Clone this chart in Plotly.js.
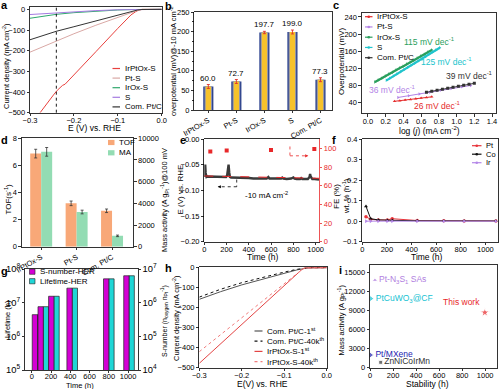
<!DOCTYPE html>
<html><head><meta charset="utf-8">
<script src="https://cdn.plot.ly/plotly-3.0.1.min.js"></script>
<style>html,body{margin:0;padding:0;background:#fff;}#plot{width:500px;height:389px;}</style>
</head><body><div id="plot"></div>
<script>
// ================= DATA =================
// (a) LSV curves
const aNames = ['IrPtOx-S','Pt-S','IrOx-S','S','Com. Pt/C'];
const aE_IrPtOxS = [-0.277,-0.26,-0.245,-0.238,-0.232,-0.226,-0.22,-0.2,-0.15,-0.1,-0.07,-0.06,-0.052,-0.045,0.0];
const aJ_IrPtOxS = [-500,-450,-410,-392,-378,-368,-362,-318,-205,-92,-27,-12,-3,0,0];
const aE_PtS = [-0.3,-0.24,-0.2,-0.15,-0.1,-0.07,-0.055,-0.045,0];
const aJ_PtS = [-207,-152,-118,-77,-38,-15,-5,-1,0];
const aE_IrOxS = [-0.3,-0.24,-0.2,-0.15,-0.1,-0.07,-0.05,0];
const aJ_IrOxS = [-43,-24,-16,-8,-3,-1,0,0];
const aE_S = [-0.3,-0.24,-0.2,-0.15,-0.1,-0.07,-0.05,0];
const aJ_S = [-25,-16,-11,-6,-2,-0.5,0,0];
const aE_PtC = [-0.3,-0.24,-0.2,-0.15,-0.1,-0.07,-0.055,-0.045,0];
const aJ_PtC = [-147,-106,-84,-55,-28,-11,-3,-0.5,0];
const aRefE = -0.24;

// (b) overpotential @ -10 mA cm-2
const bCats = ['IrPtOx-S','Pt-S','IrOx-S','S','Com. Pt/C'];
const bEta = [60.0,72.7,197.7,199.0,77.3];
const bErr = [5,5,3,5,5];

// (c) Tafel
const cNames = ['IrPtOx-S','Pt-S','IrOx-S','S','Com. Pt/C'];
const cX_IrPtOxS = [0.30,0.36,0.42,0.48,0.54,0.60,0.66,0.72];
const cY_IrPtOxS = [43,44.5,46,47.5,49,50.5,52,53.5];
const cX_PtS = [0.34,0.46,0.58,0.70,0.82,0.94,1.06,1.16];
const cY_PtS = [52,56,60,64,69,73,77,80];
const cX_IrOxS = [0.08,0.12,0.16,0.20,0.24,0.28,0.32,0.36,0.40,0.44,0.48,0.52,0.56,0.60,0.64,0.68,0.72];
const cY_IrOxS = [88,93,97,102,107,111,116,121,125,130,135,139,144,149,153,158,163];
const cX_S = [0.21,0.25,0.29,0.33,0.37,0.41,0.45,0.49,0.53,0.57,0.61,0.65,0.69,0.73,0.77,0.81];
const cY_S = [92,97,102,107,112,117,122,127,132,137,142,147,153,158,163,168];
const cX_PtC = [0.66,0.72,0.78,0.84,0.90,0.96,1.02,1.08,1.14,1.20];
const cY_PtC = [64,66.5,69,71,73.5,76,78,80.5,83,85];
const cSlopes = ['26 mV dec<sup>-1</sup>','36 mV dec<sup>-1</sup>','115 mV dec<sup>-1</sup>','125 mV dec<sup>-1</sup>','39 mV dec<sup>-1</sup>'];

// (d) TOF and mass activity
const dCats = ['IrPtOx-S','Pt-S','Com. Pt/C'];
const dTOF = [6.87,3.2,2.65];
const dTOFerr = [0.32,0.17,0.13];
const dMA = [8750,3200,1000];
const dMAerr = [400,170,70];

// (e) stability at -10 mA cm-2
const eT = [0,4,8,12,16,20,30,50,80,110,140,170,195,205,212,218,224,230,240,270,300,330,360,400,440,480,520,560,575,585,595,620,650,690,700,710,740,780,800,810,830,860,870,880,900,930,945,950,955,962,970,990,1010,1030];
const eE = [-0.074,-0.062,-0.050,-0.066,-0.073,-0.074,-0.073,-0.073,-0.074,-0.074,-0.073,-0.074,-0.074,-0.071,-0.060,-0.050,-0.065,-0.074,-0.075,-0.075,-0.075,-0.076,-0.076,-0.076,-0.077,-0.077,-0.077,-0.077,-0.074,-0.077,-0.077,-0.077,-0.077,-0.077,-0.075,-0.077,-0.078,-0.077,-0.075,-0.077,-0.078,-0.078,-0.076,-0.078,-0.078,-0.078,-0.074,-0.068,-0.073,-0.077,-0.078,-0.078,-0.079,-0.079];
const eFitT = [0,1030];
const eFitE = [-0.072,-0.0765];
const eFET = [54,201,599,988];
const eFE = [96.5,97.6,98.3,99.4];

// (f) dissolution
const fNames = ['Pt','Co','Ir'];
const fT = [30,68,130,203,243,446,662,827,1085];
const fPt = [0.021,0.009,0.006,0.006,0.012,0.003,0.002,0.001,0.001];
const fCo = [0.072,0.012,0.006,0.004,0.004,0.002,0.001,0.001,0.001];
const fIr = [0,0,0,0,0,0,0,0,0];

// (g) lifetime / S-number
const gNames = ['S-number-HER','Lifetime-HER'];
const gTime = [60,120,230,420,800,1010];
const gSnum = [4.4e5,7.6e5,1.55e6,2.7e6,5.1e6,6.3e6];
const gLife = [4.4e6,7.6e6,1.55e7,2.7e7,5.1e7,6.3e7];

// (h) LSV before / after 40k cycles
const hNames = ['Com. Pt/C-1<sup>st</sup>','Com. Pt/C-40k<sup>th</sup>','IrPtOx-S-1<sup>st</sup>','IrPtOx-S-40k<sup>th</sup>'];
const hE_PtC = [-0.3,-0.25,-0.2,-0.15,-0.1,-0.07,-0.05,-0.04,0];
const hJ_PtC1 = [-158,-120,-86,-56,-28,-11,-3,-0.5,0];
const hJ_PtC40k = [-147,-108,-75,-47,-22,-8,-2,0,0];
const hE_Ir = [-0.3,-0.25,-0.2,-0.15,-0.1,-0.08,-0.07,-0.06,-0.055,-0.05,0];
const hJ_Ir1 = [-478,-380,-282,-185,-88,-50,-30,-12,-5,-1,0];
const hJ_Ir40k = [-420,-335,-248,-163,-78,-44,-26,-10,-4,-1,0];

// (i) comparison
const iNames = ['Pt-N<sub>3</sub>S<sub>1</sub> SAs','PtCuWO<sub>3</sub>@CF','Pt/MXene','ZnNiCoIrMn','This work'];
const iStab = [43,9,6,93,997];
const iMA = [13800,10900,2000,850,8700];

// ================= LAYOUT HELPERS =================
const W=500,H=389;
const PX=x=>x/W, PY=y=>1-y/H;
const xd=(a,b)=>[a/W,b/W], yd=(t,b)=>[1-b/H,1-t/H];
const FONT='Arial, "Liberation Sans", sans-serif';
const TICK={size:7.5,color:'#000',family:FONT};
function ax(o){return Object.assign({showline:true,linecolor:'#000',linewidth:0.8,mirror:true,ticks:'outside',ticklen:2.5,tickwidth:0.8,tickcolor:'#000',showgrid:false,zeroline:false,tickfont:TICK,fixedrange:true,exponentformat:'none',separatethousands:false},o);}
function xax(o){return ax(Object.assign({ticklabelstandoff:-2},o));}

const shapes=[], annotations=[];
function txt(x,y,text,o){annotations.push(Object.assign({xref:'paper',yref:'paper',x:PX(x),y:PY(y),text:text,showarrow:false,xanchor:'left',yanchor:'middle',font:{size:8,family:FONT,color:'#000'}},o||{}));}
function ttl(text,x,y,rot,size,color){annotations.push({xref:'paper',yref:'paper',x:PX(x),y:PY(y),text:text,showarrow:false,xanchor:'center',yanchor:'middle',textangle:rot?-90:0,font:{size:size||8,family:FONT,color:color||'#000'}});}
function legend(items,x0,y0,dy,len,fs){
  items.forEach((it,i)=>{
    const y=y0+i*dy;
    if(it.kind==='box'){
      shapes.push({type:'rect',xref:'paper',yref:'paper',x0:PX(x0),x1:PX(x0+len),y0:PY(y+2.6),y1:PY(y-2.6),fillcolor:it.color,line:{color:'#222',width:it.border===false?0:0.6}});
    } else {
      shapes.push({type:'line',xref:'paper',yref:'paper',x0:PX(x0),x1:PX(x0+len),y0:PY(y),y1:PY(y),line:{color:it.color,width:it.width||1.2,dash:it.dash||'solid'}});
      if(it.kind==='linemark'){
        shapes.push({type:'circle',xref:'paper',yref:'paper',x0:PX(x0+len/2-1.3),x1:PX(x0+len/2+1.3),y0:PY(y-1.3),y1:PY(y+1.3),fillcolor:it.color,line:{width:0}});
      }
    }
    txt(x0+len+2.5,y,it.name,{font:{size:fs||8,family:FONT,color:'#000'}});
  });
}

const traces=[];
// ----- (a)
const aCol=['#e8413e','#d9a8a5','#2fa86d','#a57be0','#333333'];
[[aE_IrPtOxS,aJ_IrPtOxS],[aE_PtS,aJ_PtS],[aE_IrOxS,aJ_IrOxS],[aE_S,aJ_S],[aE_PtC,aJ_PtC]].forEach((d,i)=>{
  traces.push({type:'scatter',mode:'lines',x:d[0],y:d[1],xaxis:'x',yaxis:'y',line:{color:aCol[i],width:1},showlegend:false,name:aNames[i]});
});
shapes.push({type:'line',xref:'x',yref:'y domain',x0:aRefE,x1:aRefE,y0:0,y1:1,line:{color:'#000',width:0.9,dash:'dot'}});
legend(aNames.map((n,i)=>({name:n,color:aCol[i],kind:'line'})),112.5,68.5,9.6,7.5);
ttl('E (V) vs. RHE',94,128,false,8.5);
ttl('Current density (mA cm<sup>-2</sup>)',6,66,true,7.5);

// ----- (b)
traces.push({type:'bar',x:bCats,y:bEta,xaxis:'x2',yaxis:'y2',width:0.36,marker:{color:'#243b8a'},showlegend:false,hoverinfo:'skip'});
traces.push({type:'bar',x:bCats,y:bEta,xaxis:'x2',yaxis:'y2',width:0.27,marker:{color:'#8d93b0'},showlegend:false,hoverinfo:'skip'});
traces.push({type:'bar',x:bCats,y:bEta,xaxis:'x2',yaxis:'y2',width:0.19,marker:{color:'#f6c22c'},showlegend:false,
  error_y:{type:'data',array:bErr,color:'#e0302a',thickness:0.9,width:1.5}});
bCats.forEach((c,i)=>annotations.push({xref:'x2',yref:'y2',x:c,y:bEta[i]+bErr[i],text:bEta[i].toFixed(1),showarrow:false,yanchor:'bottom',yshift:0,font:{size:8,family:FONT,color:'#000'}}));
ttl('overpotential (mV)@-10 mA cm<sup>-2</sup>',173,62,true,7.5);

// ----- (c)
const cCol=['#e52b2b','#b283e6','#2a9e5c','#20c4cc','#333333'];
const cSym=['triangle-up','triangle-right','triangle-right','triangle-right','square'];
[[cX_IrPtOxS,cY_IrPtOxS],[cX_PtS,cY_PtS],[cX_IrOxS,cY_IrOxS],[cX_S,cY_S],[cX_PtC,cY_PtC]].forEach((d,i)=>{
  traces.push({type:'scatter',mode:'lines+markers',x:d[0],y:d[1],xaxis:'x3',yaxis:'y3',line:{color:cCol[i],width:(i===2||i===3)?2.2:1},marker:{color:cCol[i],size:3,symbol:cSym[i]},showlegend:false,name:cNames[i]});
});
legend(cNames.map((n,i)=>({name:n,color:cCol[i],kind:'linemark'})),365,16.7,10.25,7.5);
const cLab=[[0.78,34],[0.28,70],[0.70,182],[0.89,137],[1.14,104]];
cSlopes.forEach((s,i)=>annotations.push({xref:'x3',yref:'y3',x:cLab[i][0],y:cLab[i][1],text:s,showarrow:false,font:{size:8.5,family:FONT,color:cCol[i]}}));
ttl('log (<i>j</i>) (mA cm<sup>-2</sup>)',429,130.5,false,8.5);
ttl('Overpotential (mV)',341,62,true,8);

// ----- (d)
traces.push({type:'bar',x:dCats,y:dTOF,xaxis:'x4',yaxis:'y4',offset:-0.31,width:0.31,marker:{color:'#f8a878'},showlegend:false,
  error_y:{type:'data',array:dTOFerr,color:'#333',thickness:0.8,width:1.5}});
traces.push({type:'bar',x:dCats,y:dMA,xaxis:'x4',yaxis:'y10',offset:0,width:0.31,marker:{color:'#93dcb3'},showlegend:false,
  error_y:{type:'data',array:dMAerr,color:'#333',thickness:0.8,width:1.5}});
legend([{name:'TOF',color:'#f8a878',kind:'box',border:false},{name:'MA',color:'#93dcb3',kind:'box',border:false}],108,142.5,10.3,6.5);
ttl('TOF(s<sup>-1</sup>)',7.5,199,true,8);
ttl('Mass activity (A g<sub>Pt</sub><sup>-1</sup>)@100 mV',164,200,true,7.5);

// ----- (e)
traces.push({type:'scatter',mode:'lines',x:eT,y:eE,xaxis:'x5',yaxis:'y5',line:{color:'#3a3a3a',width:2.4},showlegend:false});
traces.push({type:'scatter',mode:'lines',x:eFitT,y:eFitE,xaxis:'x5',yaxis:'y5',line:{color:'#e8282a',width:1,dash:'dash'},showlegend:false});
traces.push({type:'scatter',mode:'markers',x:eFET,y:eFE,xaxis:'x5',yaxis:'y11',marker:{color:'#e8282a',size:4,symbol:'square'},showlegend:false});
shapes.push({type:'line',xref:'x5',yref:'y5',x0:291,x1:291,y0:-0.079,y1:-0.093,line:{color:'#000',width:0.8,dash:'dot'}});
shapes.push({type:'line',xref:'x5',yref:'y5',x0:291,x1:130,y0:-0.093,y1:-0.093,line:{color:'#000',width:0.8,dash:'dot'}});
annotations.push({xref:'x5',yref:'y5',axref:'x5',ayref:'y5',x:120,y:-0.093,ax:150,ay:-0.093,showarrow:true,arrowhead:2,arrowsize:0.8,arrowwidth:0.8,arrowcolor:'#000',text:''});
shapes.push({type:'line',xref:'x5',yref:'y11',x0:769,x1:769,y0:102,y1:92,line:{color:'#e8282a',width:0.8,dash:'dot'}});
shapes.push({type:'line',xref:'x5',yref:'y11',x0:769,x1:920,y0:92,y1:92,line:{color:'#e8282a',width:0.8,dash:'dot'}});
annotations.push({xref:'x5',yref:'y11',axref:'x5',ayref:'y11',x:934,y:92,ax:900,ay:92,showarrow:true,arrowhead:2,arrowsize:0.8,arrowwidth:0.8,arrowcolor:'#e8282a',text:''});
annotations.push({xref:'x5',yref:'y5',x:560,y:-0.109,text:'-10 mA cm<sup>-2</sup>',showarrow:false,font:{size:8,family:FONT,color:'#000'}});
ttl('E (V) vs. RHE',180.5,190,true,8);
ttl('FE (%)',336,197,true,8);
ttl('Time (h)',262,257,false,8.5);

// ----- (f)
const fCol=['#e8333a','#111111','#b487e8'];
const fSym=['circle','triangle-up','triangle-right'];
[fPt,fCo,fIr].forEach((d,i)=>traces.push({type:'scatter',mode:'lines+markers',x:fT,y:d,xaxis:'x6',yaxis:'y6',line:{color:fCol[i],width:1},marker:{color:fCol[i],size:3.5,symbol:fSym[i]},showlegend:false,name:fNames[i]}));
legend(fNames.map((n,i)=>({name:n,color:fCol[i],kind:'linemark'})),472,145.7,8.5,9.5,7.5);
ttl('wt. % (h<sup>-1</sup>)',346,196,true,7.5);
ttl('Time (h)',426,257,false,8.5);

// ----- (g)
traces.push({type:'bar',x:gTime,y:gSnum,xaxis:'x7',yaxis:'y12',offset:-55,width:55,marker:{color:'#d400d4',line:{color:'#222',width:0.7}},showlegend:false});
traces.push({type:'bar',x:gTime,y:gLife,xaxis:'x7',yaxis:'y7',offset:0,width:55,marker:{color:'#1fd6d6',line:{color:'#222',width:0.7}},showlegend:false});
legend([{name:gNames[0],color:'#d400d4',kind:'box'},{name:gNames[1],color:'#1fd6d6',kind:'box'}],29.5,271.7,9.5,5.5);
ttl('Lifetime (h)',7,319,true,7.5);
ttl('S-number (n<sub>oxygen</sub> n<sub>Pt</sub><sup>-1</sup>)',164,321,true,7);
ttl('Time (h)',80,385.5,false,7.5);

// ----- (h)
const hCol=['#555555','#111111','#e34444','#f07d7d'];
const hDash=['solid','dot','solid','dot'];
[[hE_PtC,hJ_PtC1],[hE_PtC,hJ_PtC40k],[hE_Ir,hJ_Ir1],[hE_Ir,hJ_Ir40k]].forEach((d,i)=>traces.push({type:'scatter',mode:'lines',x:d[0],y:d[1],xaxis:'x8',yaxis:'y8',line:{color:hCol[i],width:1,dash:hDash[i]},showlegend:false,name:hNames[i]}));
legend(hNames.map((n,i)=>({name:n,color:hCol[i],kind:'line',dash:hDash[i]})),254.5,331,10.2,8);
ttl('E(V) vs. RHE',262,383.5,false,8.5);
ttl('Current density (mA cm<sup>-2</sup>)',176,318,true,7.5);

// ----- (i)
traces.push({type:'scatter',mode:'markers+text',x:iStab,y:iMA,xaxis:'x9',yaxis:'y9',text:iNames,
  textposition:['middle right','middle right','middle right','middle right','top left'],
  textfont:{size:8.5,family:FONT,color:['#b07ee0','#14c2d2','#2424b0','#333333','#e8282a']},
  marker:{size:[5,6,6,4,7],symbol:['triangle-up','triangle-right','triangle-right','square','star'],color:['#b07ee0','#14c2d2','#2424b0','#333333','#e8282a']},
  cliponaxis:false,showlegend:false});
ttl('Stability (h)',427,383.5,false,8.5);
ttl('Mass activity (A g<sub>Pt</sub><sup>-1</sup>)',340.5,320,true,7.5);

// panel letters
[['a',4,5.5],['b',168.5,6],['c',335.5,5.5],['d',4,140],['e',183,140],['f',333.5,140],['g',4.5,271],['h',168.5,268],['i',340,270]].forEach(p=>{
  annotations.push({xref:'paper',yref:'paper',x:PX(p[1]),y:PY(p[2]),text:'<b>'+p[0]+'</b>',showarrow:false,xanchor:'center',yanchor:'middle',font:{size:11,family:FONT,color:'#000'}});
});

const layout={
  width:500,height:389,margin:{l:0,r:0,t:0,b:0},paper_bgcolor:'#fff',plot_bgcolor:'rgba(0,0,0,0)',
  barmode:'overlay',showlegend:false,font:{family:FONT,size:8,color:'#000'},
  xaxis:xax({domain:xd(30,161.7),anchor:'y',range:[-0.3,0],dtick:0.1,tickformat:'.1f'}),
  yaxis:ax({domain:yd(7.3,112.7),anchor:'x',range:[-500,10],tickvals:[0,-100,-200,-300,-400,-500]}),
  xaxis2:ax({domain:xd(194.3,331.7),anchor:'y2',type:'category',range:[-0.5,4.4],tickangle:-30}),
  yaxis2:ax({domain:yd(12,110),anchor:'x2',range:[0,250],dtick:50,minor:{ticks:'outside',ticklen:1.5,dtick:25,tickcolor:'#000'}}),
  xaxis3:xax({domain:xd(361.7,496.5),anchor:'y3',range:[-0.07,1.45],dtick:0.2,tickformat:'.1f'}),
  yaxis3:ax({domain:yd(12.7,113.3),anchor:'x3',range:[15,250],tickvals:[40,80,120,160,200,240]}),
  xaxis4:ax({domain:xd(21.7,133.3),anchor:'y4',type:'category',range:[-0.55,2.6],tickangle:-30}),
  yaxis4:ax({domain:yd(138.3,246.7),anchor:'x4',range:[0,8],dtick:2,mirror:false}),
  yaxis10:ax({overlaying:'y4',side:'right',anchor:'x4',range:[0,10000],dtick:2000,tickformat:'d',mirror:false}),
  xaxis5:xax({domain:xd(204.3,319),anchor:'y5',range:[0,1030],dtick:200}),
  yaxis5:ax({domain:yd(139,241.7),anchor:'x5',range:[-0.2,0],dtick:0.05,tickformat:'.2f',mirror:false}),
  yaxis11:ax({overlaying:'y5',side:'right',anchor:'x5',range:[0,110],dtick:20,mirror:false,linecolor:'#e8282a',tickcolor:'#e8282a',tickfont:{size:7.5,color:'#e8282a',family:FONT}}),
  xaxis6:xax({domain:xd(362.3,497.7),anchor:'y6',range:[0,1100],dtick:200}),
  yaxis6:ax({domain:yd(139,241.7),anchor:'x6',range:[-0.1,0.4],dtick:0.1,tickformat:'.1f'}),
  xaxis7:xax({domain:xd(25,137.7),anchor:'y7',range:[-70,1100],dtick:200,ticklabelstandoff:-3}),
  yaxis7:ax({domain:yd(269,370),anchor:'x7',type:'log',range:[5,8],dtick:1,exponentformat:'power',mirror:false}),
  yaxis12:ax({overlaying:'y7',side:'right',anchor:'x7',type:'log',range:[4,7],dtick:1,exponentformat:'power',mirror:false}),
  xaxis8:xax({domain:xd(199.3,326.7),anchor:'y8',range:[-0.3,0],dtick:0.1,tickformat:'.1f'}),
  yaxis8:ax({domain:yd(266.7,367.7),anchor:'x8',range:[-500,5],tickvals:[0,-100,-200,-300,-400,-500]}),
  xaxis9:xax({domain:xd(370,496.7),anchor:'y9',range:[0,1100],dtick:200}),
  yaxis9:ax({domain:yd(265,367.7),anchor:'x9',range:[0,16200],dtick:3000,tickformat:'d'}),
  shapes:shapes,annotations:annotations
};
Plotly.newPlot('plot',traces,layout,{staticPlot:true,displayModeBar:false});
</script></body></html>
